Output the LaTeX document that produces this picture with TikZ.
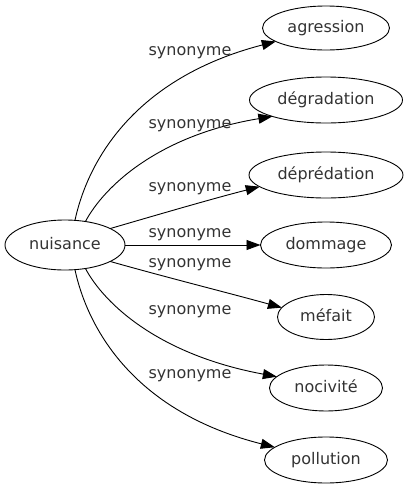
\documentclass[tikz,border=0pt]{standalone}
\usepackage{fontspec}
\setmainfont{DejaVu Sans}
\usetikzlibrary{arrows.meta,shapes.geometric}
\begin{document}
\begin{tikzpicture}[x=1pt, y=-1pt,
  word/.style={draw, ellipse, line width=0.9pt, inner sep=0pt, outer sep=0pt, minimum height=46pt,
    font=\fontsize{16}{19}\selectfont, text height=12pt, text depth=3.2pt, text=black!80},
  lbl/.style={font=\fontsize{16}{19}\selectfont, text height=12pt, text depth=3.2pt, inner sep=0pt, text=black!80},
  syn/.style={line width=0.9pt, -{Triangle[length=14pt,width=10pt]}}]
\useasboundingbox (0,0) rectangle (409,491);

\node[word, minimum width=120pt, minimum height=50pt] at (65,245)(nuisance) {nuisance};

\node[word, minimum width=127pt, minimum height=44pt] at (326,28)(agression) {agression};
\node[word, minimum width=153pt] at (326,100)(degradation) {dégradation};
\node[word, minimum width=154pt] at (326,175)(depredation) {déprédation};
\node[word, minimum width=131pt] at (326,245)(dommage) {dommage};
\node[word, minimum width=97pt, minimum height=45pt] at (326,317)(mefait) {méfait};
\node[word, minimum width=113pt] at (326,388)(nocivite) {nocivité};
\node[word, minimum width=123pt] at (326,460)(pollution) {pollution};

\draw[syn] (nuisance.68) .. controls (88,160) and (135,78) .. (agression.195);
\draw[syn] (nuisance.49) .. controls (105,185) and (160,135) .. (degradation.197);
\draw[syn] (nuisance.20) .. controls (160,214) and (215,198) .. (depredation.190);
\draw[syn] (nuisance.east) -- (dommage.west);
\draw[syn] (nuisance.-20) .. controls (165,277) and (225,292) .. (mefait.168);
\draw[syn] (nuisance.-49) .. controls (105,305) and (160,355) .. (nocivite.167);
\draw[syn] (nuisance.-68) .. controls (88,330) and (135,412) .. (pollution.166);

\node[lbl] at (190,51)(lbl1) {synonyme};
\node[lbl] at (190,124)(lbl2) {synonyme};
\node[lbl] at (190,187)(lbl3) {synonyme};
\node[lbl] at (190,233)(lbl4) {synonyme};
\node[lbl] at (190,263)(lbl5) {synonyme};
\node[lbl] at (190,310)(lbl6) {synonyme};
\node[lbl] at (190,374)(lbl7) {synonyme};
\end{tikzpicture}
\end{document}
